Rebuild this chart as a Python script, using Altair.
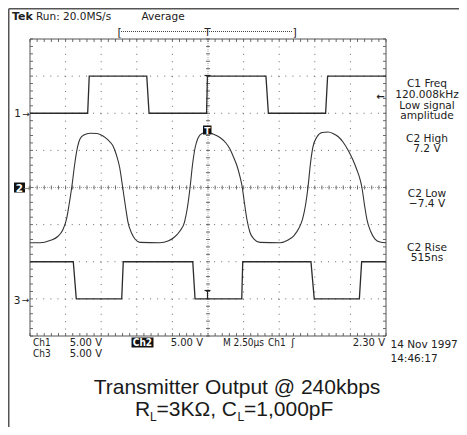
import altair as alt
import pandas as pd

# ---------------- data (read from the screen capture) ----------------
# time in microseconds (2.50 us/div, trigger at centre), value in volts
ch1_t = [-12.5, -8.45, -8.34, -4.30, -4.14, -0.10, -0.04, 4.07, 4.24, 8.26, 8.40, 12.5]
ch1_v = [0, 0, 5, 5, 0, 0, 5, 5, 0, 0, 5, 5]

ch3_t = [-12.5, -9.46, -9.25, -6.06, -5.95, -1.07, -0.91, 2.37, 2.44, 7.23, 7.46, 10.63, 10.79, 12.5]
ch3_v = [5, 5, 0, 0, 5, 5, 0, 0, 5, 5, 0, 0, 5, 5]

ch2_t = [-12.5, -11.80, -11.10, -10.55, -10.20, -9.92, -9.76, -9.57, -9.34, -9.16, -8.99, -8.71,
         -8.29, -7.79, -7.37, -7.02, -6.67, -6.43, -6.21, -5.99, -5.79, -5.62, -5.37, -5.13,
         -4.78, -3.37, -2.81, -2.39, -1.97, -1.65, -1.44, -1.26, -1.09, -0.91, -0.70, -0.42,
         -0.07, 0.35, 0.84, 1.26, 1.54, 1.79, 2.04, 2.25, 2.41, 2.53, 2.74, 2.95, 3.23,
         3.65, 5.06, 5.62, 6.04, 6.39, 6.64, 6.85, 7.02, 7.20, 7.37, 7.65, 8.01,
         8.43, 8.78, 9.13, 9.48, 9.83, 10.18, 10.46, 10.67, 10.81, 10.99, 11.17, 11.41,
         11.73, 12.08, 12.5]
ch2_v = [-7.44, -7.44, -7.14, -6.60, -5.73, -4.11, -2.36, 0.0, 3.44, 5.46, 6.54, 7.08,
         7.30, 7.28, 6.94, 6.40, 5.59, 4.38, 2.76, 0.0, -2.63, -4.65, -6.13, -6.94,
         -7.39, -7.44, -7.21, -6.74, -5.86, -4.65, -2.63, 0.0, 3.03, 5.32, 6.67, 7.28,
         7.41, 7.21, 6.74, 5.99, 5.18, 4.11, 2.90, 1.42, 0.0, -1.68, -4.38, -6.06, -6.94,
         -7.39, -7.44, -7.08, -6.47, -5.46, -4.25, -2.36, 0.0, 3.30, 5.46, 6.81, 7.41,
         7.48, 7.28, 6.87, 6.13, 5.05, 3.71, 2.36, 1.15, 0.0, -2.36, -4.38, -5.86,
         -6.94, -7.34, -7.44]

volts_per_div = 5.0
ch_names = ["Ch1", "Ch2", "Ch3"]
ch_ground_div = [2, 0, -3]          # ground marker position, divisions from centre

header_texts = ["Tek", "Run: 20.0MS/s", "Average"]
meas_texts = ["C1 Freq", "120.008kHz", "Low signal", "amplitude",
              "C2 High", "7.2 V", "C2 Low", "\u22127.4 V", "C2 Rise", "515ns"]
footer_row1 = ["Ch1", "5.00 V", "Ch2", "5.00 V", "M 2.50\u00b5s", "Ch1", "\u0283", "2.30 V"]
footer_row2 = ["Ch3", "5.00 V"]
date_texts = ["14 Nov 1997", "14:46:17"]
title_line1 = "Transmitter Output @ 240kbps"
title_line2 = ["R", "L", "=3K\u03a9, C", "L", "=1,000pF"]

# ---------------- build tables ----------------
rows = []
for name, ts, vs in [("Ch1", ch1_t, ch1_v), ("Ch2", ch2_t, ch2_v), ("Ch3", ch3_t, ch3_v)]:
    off = ch_ground_div[ch_names.index(name)]
    for t, v in zip(ts, vs):
        rows.append({"ch": name, "t": t, "div": off + v / volts_per_div})
df = pd.DataFrame(rows)

W, H = 356, 297
OX, OY = 30, 39                    # page position of the graticule
TOTAL_W, TOTAL_H = 451, 419
xs = alt.Scale(domain=[-12.5, 12.5], nice=False, zero=False)
ys = alt.Scale(domain=[-4, 4], nice=False, zero=False)

SCOPE = "DejaVu Sans"
COND = "DejaVu Sans Condensed, DejaVu Sans"
INK = "#222222"
GRID = "#6a6a6a"

layers = []

def X(px):
    return alt.value(px - OX)

def Y(py):
    return alt.value(py - OY)

one = alt.Data(values=[{}])

def txt(s, px, py, size=10.5, align="left", color=INK, font=SCOPE, weight="normal"):
    return alt.Chart(one).mark_text(text=s, align=align, baseline="alphabetic", fontSize=size,
                                    font=font, color=color, fontWeight=weight).encode(x=X(px), y=Y(py))

def hrule(px1, px2, py, color=INK, width=1, dash=None):
    kw = dict(color=color, strokeWidth=width)
    if dash:
        kw["strokeDash"] = dash
    return alt.Chart(one).mark_rule(**kw).encode(x=X(px1), x2=X(px2), y=Y(py))

def vrule(px, py1, py2, color=INK, width=1):
    return alt.Chart(one).mark_rule(color=color, strokeWidth=width).encode(x=X(px), y=Y(py1), y2=Y(py2))

def box(px1, px2, py1, py2, fill="#111111"):
    return alt.Chart(one).mark_rect(fill=fill).encode(x=X(px1), x2=X(px2), y=Y(py1), y2=Y(py2))

# outer frame (left & top)
layers.append(vrule(8.75, 8.75, 435, color="#555555", width=1.5))
layers.append(hrule(8.75, 467, 8.75, color="#555555", width=1.5))

# dotted graticule lines
vgrid = (alt.Chart(alt.sequence(1, 10, as_="i"))
         .transform_filter("datum.i != 5")
         .transform_calculate(t="-12.5 + datum.i * 2.5")
         .mark_rule(color=GRID, strokeWidth=1, strokeDash=[1, 6.425])
         .encode(x=alt.X("t:Q", scale=xs, axis=None)))
hgrid = (alt.Chart(alt.sequence(1, 8, as_="i"))
         .transform_filter("datum.i != 4")
         .transform_calculate(d="-4 + datum.i")
         .mark_rule(color=GRID, strokeWidth=1, strokeDash=[1, 6.12])
         .encode(y=alt.Y("d:Q", scale=ys, axis=None)))
layers += [vgrid, hgrid]

# centre cross
layers.append(alt.Chart(one).mark_rule(color="#aaaaaa", strokeWidth=1, strokeDash=[1, 1])
              .encode(x=alt.X(datum=0, scale=xs, axis=None)))
layers.append(alt.Chart(one).mark_rule(color="#aaaaaa", strokeWidth=1, strokeDash=[1, 1])
              .encode(y=alt.Y(datum=0, scale=ys, axis=None)))

# minor ticks (1/5 division)
xt = alt.Chart(alt.sequence(0, 51, as_="i")).transform_calculate(t="-12.5 + datum.i * 0.5")
yt = alt.Chart(alt.sequence(0, 41, as_="i")).transform_calculate(d="-4 + datum.i * 0.2")
for a, b in [(0, 3), (H - 3, H), (H / 2 - 2, H / 2 + 2)]:
    layers.append(xt.mark_rule(color=GRID, strokeWidth=1)
                  .encode(x=alt.X("t:Q", scale=xs, axis=None), y=alt.value(a), y2=alt.value(b)))
for a, b in [(0, 3), (W - 3, W), (W / 2 - 2, W / 2 + 2)]:
    layers.append(yt.mark_rule(color=GRID, strokeWidth=1)
                  .encode(y=alt.Y("d:Q", scale=ys, axis=None), x=alt.value(a), x2=alt.value(b)))

# graticule border
layers.append(alt.Chart(one).mark_rect(fill=None, stroke="#555555", strokeWidth=1)
              .encode(x=alt.value(0), x2=alt.value(W), y=alt.value(0), y2=alt.value(H)))

# traces
sq = df[df.ch != "Ch2"]
sine = df[df.ch == "Ch2"]
layers.append(alt.Chart(sq).mark_line(color="#2b2b2b", strokeWidth=1.3)
              .encode(x=alt.X("t:Q", scale=xs, axis=None), y=alt.Y("div:Q", scale=ys, axis=None),
                      detail="ch:N", order="t:Q"))
layers.append(alt.Chart(sine).mark_line(color="#333333", strokeWidth=1.1, interpolate="monotone")
              .encode(x=alt.X("t:Q", scale=xs, axis=None), y=alt.Y("div:Q", scale=ys, axis=None),
                      order="t:Q"))

# header
layers.append(txt(header_texts[0], 12, 20, size=11, weight="bold"))
layers.append(txt(header_texts[1], 36, 20, size=10.5))
layers.append(txt(header_texts[2], 141.5, 20, size=10.5))
layers.append(txt("[", 117.5, 35.5, size=11))
layers.append(txt("]", 292.5, 35.5, size=11))
layers.append(hrule(121, 293, 31.5, color="#444444", dash=[1, 1]))
layers.append(txt("T", 207.5, 36, size=10, align="center"))

# channel ground markers
layers.append(txt("1", 21, 117, size=10.5, align="right"))
layers.append(txt("\u2192", 26, 116.5, size=9, align="center"))
layers.append(box(14, 25, 182.5, 192.5))
layers.append(txt("2", 19.5, 191.5, size=10.5, align="center", color="white", weight="bold"))
layers.append(txt("\u2192", 27, 191, size=9, align="center", color="#777777"))
layers.append(txt("3", 20.5, 303.5, size=10.5, align="right"))
layers.append(txt("\u2192", 25.5, 303, size=9, align="center"))

# trigger level arrow
layers.append(txt("\u2190", 380.5, 100, size=10, align="center", weight="bold"))

# trigger point markers
layers.append(hrule(204.5, 210.5, 75.5, width=1.2))
layers.append(box(203, 211.5, 125.5, 134.5))
layers.append(txt("T", 207.3, 133.5, size=9, align="center", color="white", weight="bold"))
layers.append(hrule(204.5, 210.5, 290.5, width=1.2))
layers.append(vrule(207.5, 290.5, 299, width=1.2))

# measurement readouts
meas_base = [87.3, 98, 108.7, 119.4, 141.7, 152.4, 196.7, 207.4, 250.7, 261.4]
for s, b in zip(meas_texts, meas_base):
    layers.append(txt(s, 427, b, size=10.6, align="center"))

# footer rows
layers.append(txt(footer_row1[0], 33, 346, size=10, font=COND))
layers.append(txt(footer_row1[1], 102, 346, size=10, align="right"))
layers.append(box(131.5, 153.5, 337.5, 347.5))
layers.append(txt(footer_row1[2], 142.5, 346, size=10, align="center", color="white", weight="bold", font=COND))
layers.append(txt(footer_row1[3], 203, 346, size=10, align="right"))
layers.append(txt(footer_row1[4], 264, 346, size=10, align="right", font=COND))
layers.append(txt(footer_row1[5], 268, 346, size=10, font=COND))
layers.append(txt(footer_row1[6], 293, 346, size=10, align="center"))
layers.append(txt(footer_row1[7], 385, 346, size=10, align="right"))
layers.append(txt(footer_row2[0], 33, 357, size=10, font=COND))
layers.append(txt(footer_row2[1], 102, 357, size=10, align="right"))
layers.append(txt(date_texts[0], 390.5, 347.5, size=10.5))
layers.append(txt(date_texts[1], 390.5, 362, size=10.5))

# caption
CAP = "Liberation Sans, Arial, sans-serif"
layers.append(txt(title_line1, 237, 394, size=21, align="center", font=CAP, color="#1a1a1a"))
cx = [135, 150, 156.5, 237.5, 244]
for j, (s, x0) in enumerate(zip(title_line2, cx)):
    if s == "L":
        layers.append(txt(s, x0, 421, size=12, font=CAP, color="#1a1a1a"))
    else:
        layers.append(txt(s, x0, 416, size=21, font=CAP, color="#1a1a1a"))

chart = (alt.layer(*layers)
         .properties(width=W, height=H,
                     padding={"left": OX - 8, "top": OY - 8, "right": TOTAL_W - (OX - 8) - W,
                              "bottom": TOTAL_H - (OY - 8) - H},
                     autosize=alt.AutoSizeParams(type="none"),
                     background="white")
         .configure_view(stroke=None))

chart.save("out.html", embed_options={"renderer": "svg", "actions": False})
